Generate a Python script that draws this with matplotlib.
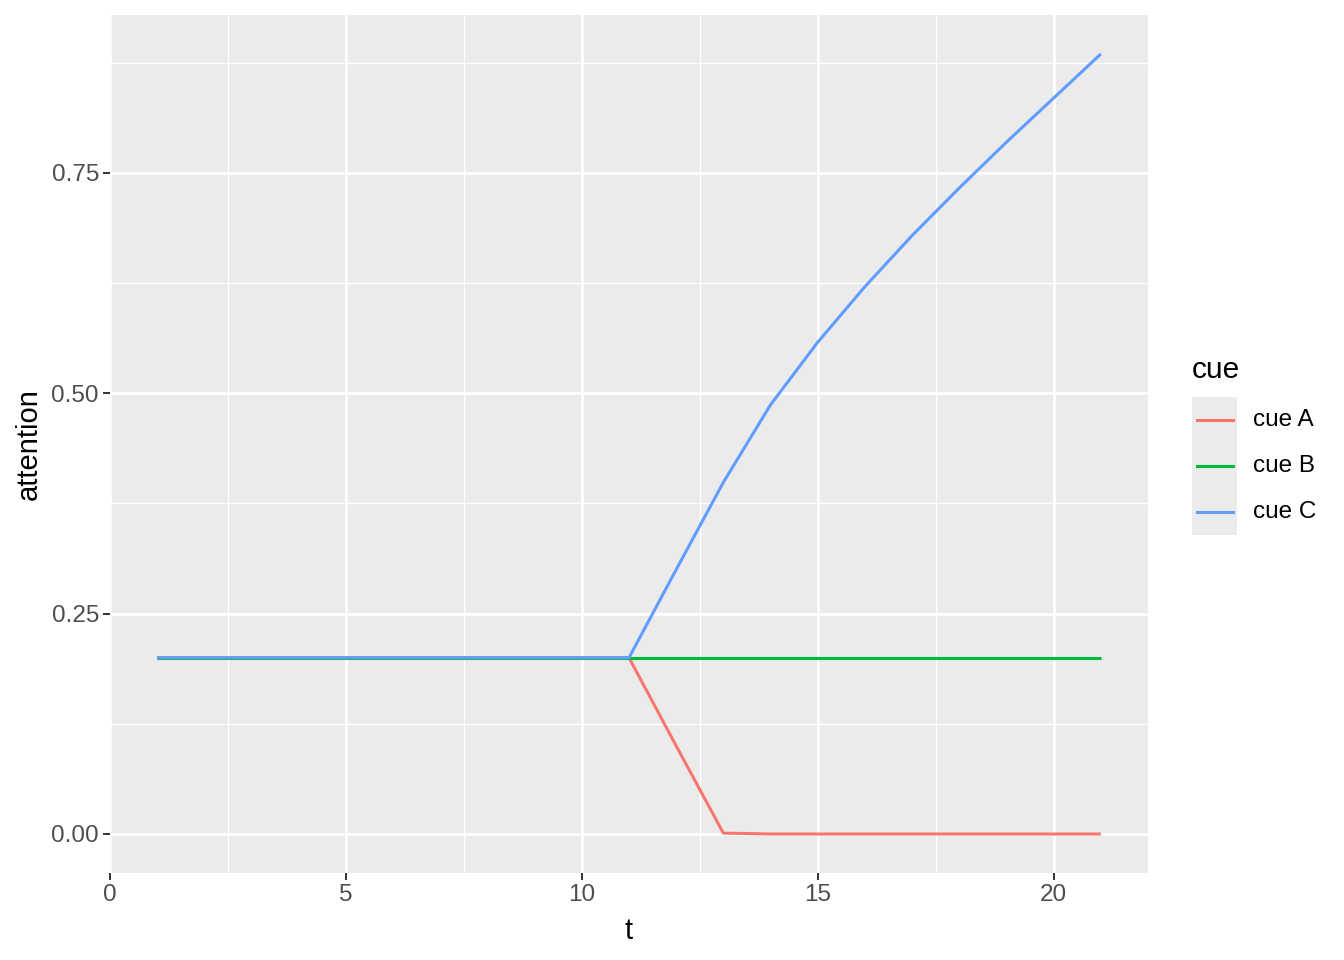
import numpy as np
import matplotlib.pyplot as plt
from matplotlib.lines import Line2D
from matplotlib.patches import Rectangle

plt.rcParams['font.family'] = ['Liberation Sans', 'DejaVu Sans']

t = np.arange(1, 22)
cues = ['cue A', 'cue B', 'cue C']
cue_a = [0.2] * 11 + [0.1, 0.001, 0.0, 0.0, 0.0, 0.0, 0.0, 0.0, 0.0, 0.0]
cue_b = [0.2] * 21
cue_c = [0.2] * 11 + [0.3, 0.399, 0.487, 0.558, 0.621, 0.679, 0.733, 0.785, 0.835, 0.885]
colors = ['#F8766D', '#00BA38', '#619CFF']

W, H = 1344, 960
fig = plt.figure(figsize=(W / 100, H / 100), dpi=100)
ax = fig.add_axes([110 / W, 1 - 873 / H, (1148 - 110) / W, (873 - 15) / H])
ax.set_facecolor('#EBEBEB')

########### grid, ggplot style
for x in [0, 5, 10, 15, 20]:
    ax.axvline(x, color='white', lw=1.9, zorder=1)
for x in [2.5, 7.5, 12.5, 17.5]:
    ax.axvline(x, color='white', lw=0.95, zorder=1)
for y in [0, 0.25, 0.5, 0.75]:
    ax.axhline(y, color='white', lw=1.9, zorder=1)
for y in [0.125, 0.375, 0.625, 0.875]:
    ax.axhline(y, color='white', lw=0.95, zorder=1)

for vals, col in zip([cue_a, cue_b, cue_c], colors):
    ax.plot(t, vals, color=col, lw=2.2, zorder=3, solid_capstyle='butt')

ymax = max(cue_c)
pad = 0.05 * ymax
ax.set_xlim(0, 22)
ax.set_ylim(-pad, ymax + pad)
ax.set_xticks([0, 5, 10, 15, 20])
ax.set_yticks([0, 0.25, 0.5, 0.75])
ax.set_yticklabels(['0.00', '0.25', '0.50', '0.75'])
ax.tick_params(labelsize=17.5, colors='#333333', labelcolor='#4D4D4D', length=5, width=1.4, pad=3)
for s in ax.spines.values():
    s.set_visible(False)
ax.set_xlabel('t', fontsize=21, labelpad=8)
ax.set_ylabel('attention', fontsize=21, labelpad=6)

############ legend drawn by hand
fig.text(1192 / W, 1 - 370 / H, 'cue', fontsize=21.5, va='center', ha='left')
fig.add_artist(Rectangle((1192 / W, 1 - 535 / H), 45 / W, 138 / H, transform=fig.transFigure,
                         facecolor='#EBEBEB', edgecolor='none'))
for i, (lab, col) in enumerate(zip(cues, colors)):
    yy = 1 - (420 + 46 * i) / H
    fig.add_artist(Line2D([1197 / W, 1233 / W], [yy, yy], transform=fig.transFigure,
                          color=col, lw=2.2))
    fig.text(1253 / W, yy, lab, fontsize=17.5, va='center', ha='left')

fig.savefig('out.png', dpi=100)
